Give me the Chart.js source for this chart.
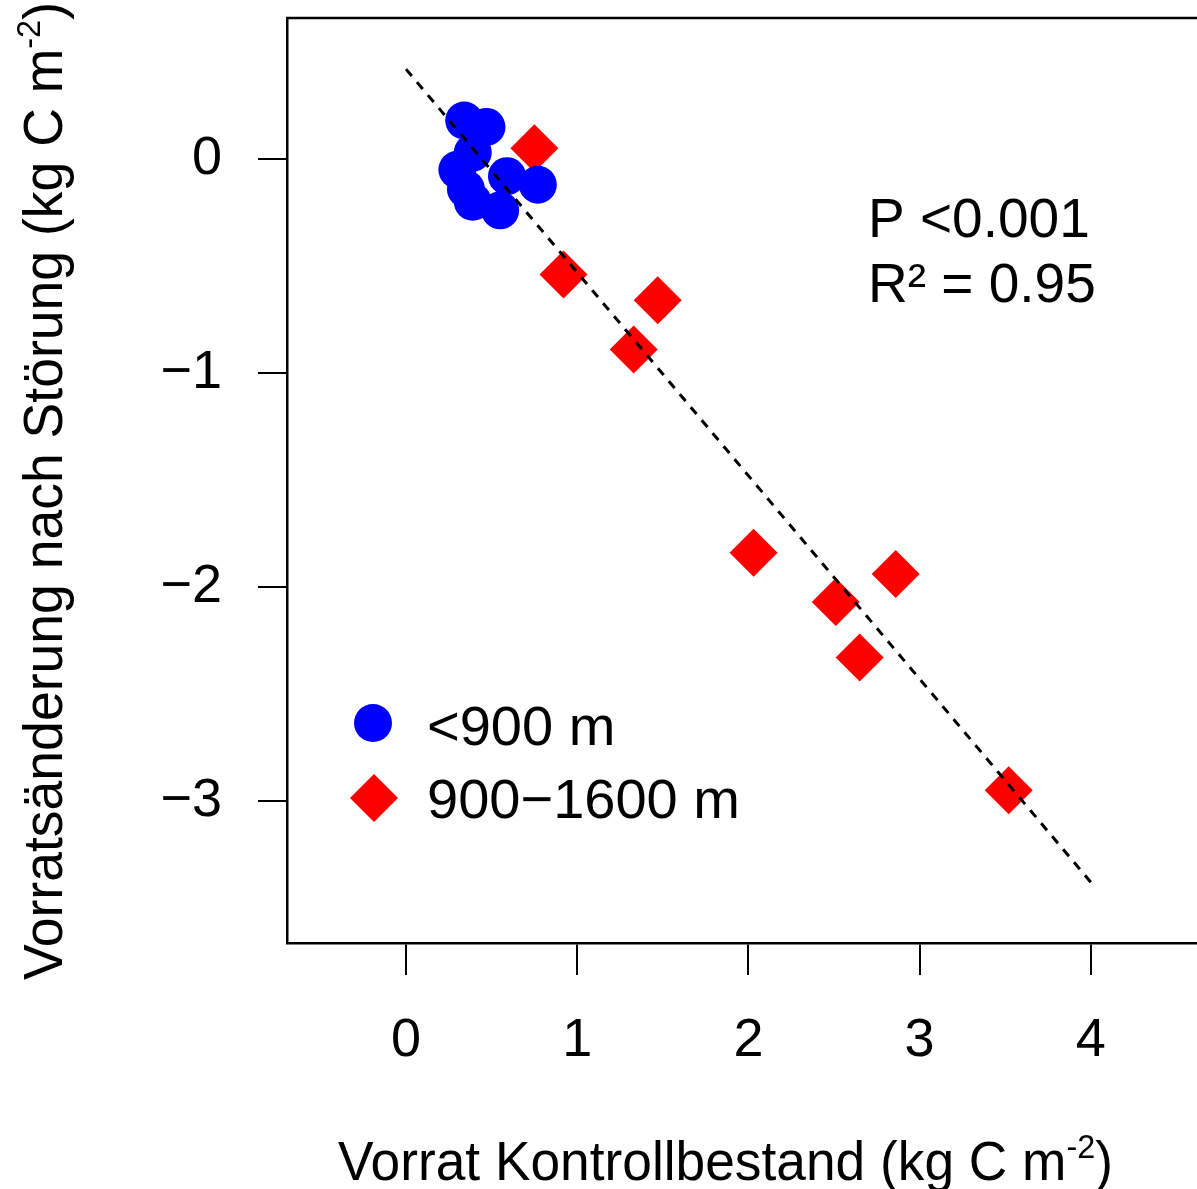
<!DOCTYPE html>
<html>
<head>
<meta charset="utf-8">
<script src="https://cdn.jsdelivr.net/npm/chart.js"></script>
<style>
  html, body { margin: 0; padding: 0; background: #fff; }
  canvas { display: block; }
</style>
</head>
<body>
<canvas id="plot" width="1197" height="1189"></canvas>
<script>
// values
const lowX = [0.34, 0.47, 0.39, 0.30, 0.35, 0.39, 0.55, 0.59, 0.77];
const lowY = [0.18, 0.15, 0.03, -0.05, -0.14, -0.20, -0.24, -0.08, -0.12];
const highX = [0.75, 0.92, 1.47, 1.33, 2.03, 2.86, 2.51, 2.65, 3.52];
const highY = [0.05, -0.54, -0.66, -0.89, -1.84, -1.94, -2.07, -2.33, -2.95];
const fitX = [0, 4];
const fitY = [0.42, -3.38];
const seriesLabels = ['<900 m', '900\u22121600 m'];
const xTicks = [0, 1, 2, 3, 4];
const yTicks = [-3, -2, -1, 0];
const statLines = ['P <0.001', 'R\u00b2 = 0.95'];

const FONT = "'Liberation Sans', Arial, sans-serif";
const toPoints = (xs, ys) => xs.map((x, i) => ({ x: x, y: ys[i] }));
const minusFmt = v => String(v).replace('-', '\u2212');

// top frame line (right side is cut off in the original)
const frameTop = {
  id: 'frameTop',
  afterDraw(chart) {
    const { ctx, chartArea } = chart;
    ctx.save();
    ctx.strokeStyle = '#000';
    ctx.lineWidth = 2.5;
    ctx.beginPath();
    ctx.moveTo(chartArea.left - 1, chartArea.top);
    ctx.lineTo(chartArea.right, chartArea.top);
    ctx.stroke();
    ctx.restore();
  }
};

// axis titles with superscript, squeezed to the width seen in the figure
function drawTitle(ctx, main, sup, tail, width) {
  ctx.font = '56px ' + FONT;
  const w1 = ctx.measureText(main).width;
  const w3 = ctx.measureText(tail).width;
  ctx.font = '34px ' + FONT;
  const w2 = ctx.measureText(sup).width;
  const s = width / (w1 + w2 + w3);
  ctx.scale(s, 1);
  ctx.textAlign = 'left';
  ctx.textBaseline = 'alphabetic';
  ctx.fillStyle = '#000';
  ctx.font = '56px ' + FONT;
  ctx.fillText(main, 0, 0);
  ctx.font = '34px ' + FONT;
  ctx.fillText(sup, w1, -22);
  ctx.font = '56px ' + FONT;
  ctx.fillText(tail, w1 + w2, 0);
}

const extras = {
  id: 'extras',
  afterDraw(chart) {
    const ctx = chart.ctx;
    // x title
    ctx.save();
    ctx.translate(338, 1180);
    drawTitle(ctx, 'Vorrat Kontrollbestand (kg C m', '-2', ')', 775);
    ctx.restore();
    // y title
    ctx.save();
    ctx.translate(62, 980);
    ctx.rotate(-Math.PI / 2);
    drawTitle(ctx, 'Vorrats\u00e4nderung nach St\u00f6rung (kg C m', '-2', ')', 978);
    ctx.restore();

    // statistics
    ctx.save();
    ctx.fillStyle = '#000';
    ctx.font = '55px ' + FONT;
    ctx.textAlign = 'left';
    ctx.textBaseline = 'alphabetic';
    ctx.fillText(statLines[0], 868, 237);
    ctx.fillText(statLines[1], 868, 302);

    // legend
    const ds = chart.data.datasets;
    ctx.fillStyle = ds[1].backgroundColor;
    ctx.beginPath();
    ctx.arc(373, 723, ds[1].pointRadius, 0, Math.PI * 2);
    ctx.fill();
    const r = ds[2].pointRadius;
    ctx.fillStyle = ds[2].backgroundColor;
    ctx.beginPath();
    ctx.moveTo(374 - r, 798);
    ctx.lineTo(374, 798 - r);
    ctx.lineTo(374 + r, 798);
    ctx.lineTo(374, 798 + r);
    ctx.closePath();
    ctx.fill();
    ctx.fillStyle = '#000';
    ctx.font = '56px ' + FONT;
    ctx.fillText(seriesLabels[0], 427, 745);
    ctx.fillText(seriesLabels[1], 427, 818);
    ctx.restore();
  }
};

new Chart(document.getElementById('plot'), {
  type: 'scatter',
  data: {
    datasets: [
      {
        type: 'line',
        label: 'fit',
        data: toPoints(fitX, fitY),
        borderColor: '#000',
        borderWidth: 3,
        borderDash: [9, 8],
        pointRadius: 0,
        fill: false,
        order: 0
      },
      {
        label: seriesLabels[0],
        data: toPoints(lowX, lowY),
        pointStyle: 'circle',
        pointRadius: 19,
        backgroundColor: '#0000ff',
        borderWidth: 0,
        order: 1
      },
      {
        label: seriesLabels[1],
        data: toPoints(highX, highY),
        pointStyle: 'rectRot',
        pointRadius: 24,
        backgroundColor: '#ff0000',
        borderWidth: 0,
        order: 2
      }
    ]
  },
  options: {
    responsive: false,
    animation: false,
    events: [],
    layout: { autoPadding: false, padding: { top: 18, left: 0, right: 0, bottom: 0 } },
    plugins: { legend: { display: false }, tooltip: { enabled: false } },
    scales: {
      x: {
        type: 'linear',
        min: -0.695,
        max: 4.62,
        afterBuildTicks: s => { s.ticks = xTicks.map(v => ({ value: v })); },
        afterFit: s => { s.height = 246; s.paddingLeft = 0; s.paddingRight = 0; },
        grid: { drawOnChartArea: false, drawTicks: true, tickLength: 32, color: '#000', lineWidth: 2 },
        border: { color: '#000', width: 2.5 },
        ticks: { color: '#000', font: { family: FONT, size: 54 }, padding: 34, maxRotation: 0, callback: v => minusFmt(v) }
      },
      y: {
        type: 'linear',
        min: -3.664,
        max: 0.659,
        afterBuildTicks: s => { s.ticks = yTicks.map(v => ({ value: v })); },
        afterFit: s => { s.width = 287; s.paddingTop = 0; s.paddingBottom = 0; },
        grid: { drawOnChartArea: false, drawTicks: true, tickLength: 29, color: '#000', lineWidth: 2 },
        border: { color: '#000', width: 2.5 },
        ticks: { color: '#000', font: { family: FONT, size: 54 }, padding: 36, callback: v => minusFmt(v) }
      }
    }
  },
  plugins: [frameTop, extras]
});
</script>
</body>
</html>
